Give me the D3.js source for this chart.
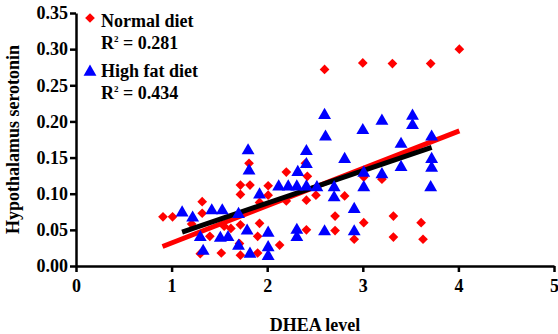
<!DOCTYPE html>
<html>
<head>
<meta charset="utf-8">
<script src="https://cdn.jsdelivr.net/npm/d3@7"></script>
<style>
  body { margin: 0; background: #fff; }
  svg text { font-family: "Liberation Serif", "Times New Roman", serif; font-weight: bold; }
</style>
</head>
<body>
<svg width="558" height="334"></svg>
<script>
const svg = d3.select("svg"),
  width = +svg.attr("width"),
  height = +svg.attr("height");

// DHEA level (x) and hypothalamus serotonin (y)
const normalX = [0.91, 1.01, 1.21, 1.32, 1.32, 1.40, 1.30, 1.52, 1.55, 1.62,
  1.72, 1.72, 1.72, 1.81, 1.82, 1.72, 1.90, 1.90, 1.92, 2.01,
  2.01, 1.92, 2.13, 2.20, 2.20, 2.40, 2.42, 2.41, 2.41, 2.51,
  2.81, 2.71, 2.71, 3.01, 3.01, 2.91, 3.20, 3.32, 3.32, 3.61,
  3.63, 2.60, 3.00, 3.31, 3.71, 4.01, 1.71];
const normalY = [0.068, 0.068, 0.058, 0.089, 0.073, 0.041, 0.017, 0.018, 0.055, 0.052,
  0.057, 0.112, 0.099, 0.142, 0.112, 0.015, 0.041, 0.018, 0.088, 0.111,
  0.098, 0.059, 0.029, 0.130, 0.090, 0.142, 0.124, 0.091, 0.050, 0.098,
  0.097, 0.069, 0.049, 0.123, 0.060, 0.037, 0.120, 0.069, 0.040, 0.060,
  0.037, 0.272, 0.281, 0.280, 0.280, 0.300, 0.031];

const highFatX = [1.11, 1.22, 1.30, 1.33, 1.42, 1.53, 1.51, 1.59, 1.70, 1.70,
  1.79, 1.82, 1.80, 1.81, 1.92, 2.01, 2.01, 2.01, 2.12, 2.22,
  2.31, 2.32, 2.31, 2.31, 2.41, 2.41, 2.41, 2.60, 2.61, 2.81,
  3.00, 3.20, 3.52, 3.52, 3.40, 3.40, 3.72, 3.72, 3.72, 3.71,
  3.01, 3.01, 3.20, 2.70, 2.70, 2.52, 2.91, 2.91, 2.60];
const highFatY = [0.075, 0.068, 0.041, 0.022, 0.078, 0.078, 0.040, 0.041, 0.073, 0.029,
  0.050, 0.018, 0.161, 0.133, 0.100, 0.047, 0.027, 0.015, 0.111, 0.111,
  0.111, 0.131, 0.051, 0.041, 0.160, 0.142, 0.111, 0.210, 0.180, 0.149,
  0.189, 0.202, 0.209, 0.196, 0.170, 0.138, 0.180, 0.149, 0.137, 0.110,
  0.130, 0.110, 0.128, 0.110, 0.096, 0.110, 0.080, 0.049, 0.049];

// regression line end points
const normalFitX = [0.905, 4.01];
const normalFitY = [0.027, 0.187];
const highFatFitX = [1.11, 3.72];
const highFatFitY = [0.047, 0.164];

const xTicks = [0, 1, 2, 3, 4, 5];
const yTicks = [0, 0.05, 0.10, 0.15, 0.20, 0.25, 0.30, 0.35];

const legendLabels = ["Normal diet", "High fat diet"];
const legendR2 = ["0.281", "0.434"];

const margin = { top: 13, right: 4, bottom: 68, left: 76 };

const x = d3.scaleLinear().domain([0, 5]).range([margin.left, width - margin.right]);
const y = d3.scaleLinear().domain([0, 0.35]).range([height - margin.bottom, margin.top]);

const diamond = d3.symbol().type(d3.symbolDiamond2).size(60);
const triangle = d3.symbol().type(d3.symbolTriangle).size(72);

// axes
const xAxis = svg.append("g")
  .attr("transform", "translate(0," + y(0) + ")")
  .call(d3.axisBottom(x).tickValues(xTicks).tickSize(6).tickSizeOuter(0).tickFormat(d3.format("d")));

const yAxis = svg.append("g")
  .attr("transform", "translate(" + x(0) + ",0)")
  .call(d3.axisLeft(y).tickValues(yTicks).tickSize(6).tickSizeOuter(0).tickFormat(d3.format(".2f")));

[xAxis, yAxis].forEach((g) => {
  g.select(".domain").attr("stroke", "#000").attr("stroke-width", 2.5);
  g.selectAll(".tick line").attr("stroke", "#000").attr("stroke-width", 2.5);
  g.selectAll(".tick text").attr("fill", "#000").style("font-size", "18px");
});
xAxis.selectAll(".tick text").attr("dy", "0.95em").attr("y", 9);
yAxis.selectAll(".tick text").attr("x", -8);

// points
const normal = normalX.map((v, i) => ({ x: v, y: normalY[i] }));
const highFat = highFatX.map((v, i) => ({ x: v, y: highFatY[i] }));

svg.append("g").selectAll("path")
  .data(normal)
  .join("path")
  .attr("d", diamond)
  .attr("transform", (d) => "translate(" + x(d.x) + "," + y(d.y) + ")")
  .attr("fill", "#ff0000");

const line = d3.line().x((d) => x(d[0])).y((d) => y(d[1]));

svg.append("path")
  .datum(normalFitX.map((v, i) => [v, normalFitY[i]]))
  .attr("d", line)
  .attr("fill", "none")
  .attr("stroke", "#ff0000")
  .attr("stroke-width", 5);

svg.append("path")
  .datum(highFatFitX.map((v, i) => [v, highFatFitY[i]]))
  .attr("d", line)
  .attr("fill", "none")
  .attr("stroke", "#000")
  .attr("stroke-width", 5);

svg.append("g").selectAll("path")
  .data(highFat)
  .join("path")
  .attr("d", triangle)
  .attr("transform", (d) => "translate(" + x(d.x) + "," + (y(d.y) + 1) + ")")
  .attr("fill", "#0000ff");

// legend
const legend = svg.append("g").style("font-size", "18px");
legend.append("path").attr("d", diamond).attr("transform", "translate(90,18)").attr("fill", "#ff0000");
legend.append("path").attr("d", triangle).attr("transform", "translate(90,72)").attr("fill", "#0000ff");

[27, 77].forEach((by, i) => {
  legend.append("text").attr("x", 101).attr("y", by).text(legendLabels[i]);
  const r = legend.append("text").attr("x", 101).attr("y", by + 22);
  r.append("tspan").text("R");
  r.append("tspan").attr("dy", -7).style("font-size", "9px").text("2");
  r.append("tspan").attr("dy", 7).text(" = " + legendR2[i]);
});

// axis titles
svg.append("text")
  .attr("x", (x(0) + x(5)) / 2)
  .attr("y", 331)
  .attr("text-anchor", "middle")
  .style("font-size", "18px")
  .text("DHEA level");

svg.append("text")
  .attr("transform", "translate(19," + (y(0) + y(0.35)) / 2 + ") rotate(-90)")
  .attr("text-anchor", "middle")
  .style("font-size", "18px")
  .text("Hypothalamus serotonin");
</script>
</body>
</html>
